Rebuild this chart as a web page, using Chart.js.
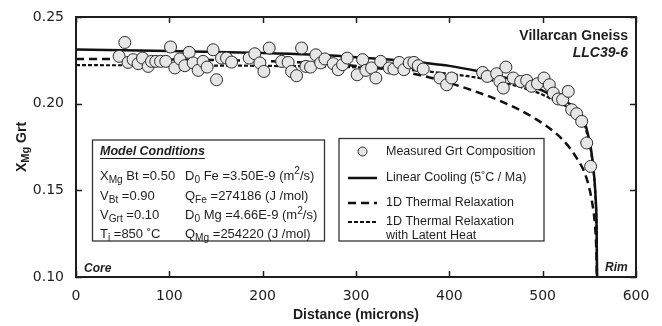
<!DOCTYPE html>
<html>
<head>
<meta charset="utf-8">
<script src="https://cdn.jsdelivr.net/npm/chart.js@4.4.1/dist/chart.umd.min.js"></script>
<style>
  body { margin: 0; background: #fff; }
  #wrap { width: 662px; height: 326px; position: relative; }
</style>
</head>
<body>
<div id="wrap"><canvas id="profileChart"></canvas></div>
<script>
// measured garnet composition, core -> rim
const grtDist = [
  46.2, 52.3, 55.8, 61.2, 66.6, 71.3, 77.3, 80.9, 85.5, 90.6, 96.2, 101.3, 105.9, 111.3, 116.6,
  121.2, 125.5, 130.9, 136.2, 140.5, 146.9, 150.6, 155.9, 161.3, 166.7, 185.5, 191.6, 197.0,
  201.3, 207.0, 220.3, 227.3, 231.0, 236.3, 241.7, 246.3, 251.3, 257.0, 262.1, 266.7, 275.6,
  280.9, 285.6, 290.6, 301.3, 307.1, 310.6, 316.7, 321.3, 326.4, 335.6, 340.6, 346.3, 351.3,
  357.0, 362.0, 366.7, 372.0, 389.9, 397.1, 402.5, 435.7, 440.6, 450.7, 454.2, 457.8, 460.6,
  468.5, 476.4, 482.9, 488.2, 494.5, 501.4, 507.1, 511.4, 516.7, 521.4, 527.4, 531.1, 536.4,
  541.8, 547.2, 551.4
];
const grtXMg = [
  0.2273, 0.2353, 0.2238, 0.2254, 0.2231, 0.2263, 0.2215, 0.2244, 0.2244, 0.2244, 0.2244, 0.2327, 0.2206, 0.2258, 0.2219,
  0.2296, 0.2235, 0.2192, 0.2244, 0.2211, 0.2311, 0.2138, 0.2263, 0.2263, 0.2240, 0.2263, 0.2288, 0.2235,
  0.2186, 0.2321, 0.2244, 0.2238, 0.2186, 0.2161, 0.2321, 0.2215, 0.2211, 0.2282, 0.2235, 0.2258, 0.2231,
  0.2196, 0.2225, 0.2263, 0.2167, 0.2254, 0.2192, 0.2206, 0.2148, 0.2244, 0.2206, 0.2200, 0.2238, 0.2196,
  0.2235, 0.2238, 0.2219, 0.2200, 0.2148, 0.2109, 0.2148, 0.2180, 0.2157, 0.2173, 0.2128, 0.2090, 0.2211,
  0.2148, 0.2128, 0.2134, 0.2100, 0.2115, 0.2148, 0.2109, 0.2061, 0.2027, 0.2023, 0.2071, 0.1965, 0.1942,
  0.1898, 0.1773, 0.1638
];

// model curves
const coolDist = [0, 100, 200, 250, 300, 350, 400, 430, 460, 480, 500, 515, 530, 538, 545, 549, 552, 554.5, 556.5, 557.8, 558.3];
const coolXMg = [0.2312, 0.2304, 0.2292, 0.2283, 0.2268, 0.2248, 0.2218, 0.2188, 0.2150, 0.2118, 0.2075, 0.2030, 0.1995, 0.1950, 0.1895, 0.1810, 0.1730, 0.1620, 0.1480, 0.1280, 0.1000];

const relaxDist = [0, 100, 200, 250, 300, 340, 380, 420, 455, 490, 520, 536, 547, 553, 556, 557.5, 558];
const relaxXMg = [0.2258, 0.2255, 0.2246, 0.2236, 0.2218, 0.2192, 0.2150, 0.2085, 0.2015, 0.1920, 0.1800, 0.1690, 0.1570, 0.1430, 0.1300, 0.1150, 0.1000];

const latentDist = [0, 100, 200, 300, 350, 400, 430, 460, 480, 500, 515, 530, 538, 545, 549, 552, 554.5, 556.5, 557.8, 558.3];
const latentXMg = [0.2222, 0.2221, 0.2218, 0.2210, 0.2198, 0.2172, 0.2150, 0.2118, 0.2090, 0.2052, 0.2010, 0.1970, 0.1930, 0.1875, 0.1795, 0.1720, 0.1612, 0.1472, 0.1272, 0.1000];

const xTicks = [0, 100, 200, 300, 400, 500, 600];
const yTicks = [0.10, 0.15, 0.20, 0.25];

const legendLabels = [
  ['Measured Grt Composition'],
  ['Linear Cooling (5\u02DAC / Ma)'],
  ['1D Thermal Relaxation'],
  ['1D Thermal Relaxation', 'with Latent Heat']
];

// model parameters, each row: [left column, right column]; parts are [text, 'sub'|'sup'|'']
const modelRows = [
  [[['X', ''], ['Mg', 'sub'], [' Bt =0.50', '']], [['D', ''], ['0', 'sub'], [' Fe =3.50E-9 (m', ''], ['2', 'sup'], ['/s)', '']]],
  [[['V', ''], ['Bt', 'sub'], [' =0.90', '']], [['Q', ''], ['Fe', 'sub'], [' =274186 (J /mol)', '']]],
  [[['V', ''], ['Grt', 'sub'], [' =0.10', '']], [['D', ''], ['0', 'sub'], [' Mg =4.66E-9 (m', ''], ['2', 'sup'], ['/s)', '']]],
  [[['T', ''], ['i', 'sub'], [' =850 \u02DAC', '']], [['Q', ''], ['Mg', 'sub'], [' =254220 (J /mol)', '']]]
];

const toXY = (xs, ys) => xs.map((x, i) => ({ x: x, y: ys[i] }));
const INK = '#1e1e1e';
const SANS = '"Liberation Sans", Arial, sans-serif';

function drawRich(ctx, x, y, parts, size) {
  parts.forEach(p => {
    const small = p[1] !== '';
    ctx.font = (small ? size * 0.78 : size) + 'px ' + SANS;
    let dy = 0;
    if (p[1] === 'sub') dy = size * 0.3;
    if (p[1] === 'sup') dy = -size * 0.35;
    ctx.fillText(p[0], x, y + dy);
    x += ctx.measureText(p[0]).width;
  });
}

const decorPlugin = {
  id: 'decor',
  beforeDatasetsDraw(chart) {
    const ctx = chart.ctx;
    ctx.save();
    // model conditions box
    ctx.fillStyle = '#fff';
    ctx.strokeStyle = '#333';
    ctx.lineWidth = 1.3;
    ctx.fillRect(92.5, 140, 232, 101);
    ctx.strokeRect(92.5, 140, 232, 101);
    ctx.fillStyle = INK;
    ctx.textBaseline = 'middle';
    ctx.textAlign = 'left';
    ctx.font = 'italic bold 12.5px ' + SANS;
    ctx.fillText('Model Conditions', 100, 152);
    const tw = ctx.measureText('Model Conditions').width;
    ctx.lineWidth = 1;
    ctx.strokeStyle = INK;
    ctx.beginPath();
    ctx.moveTo(100, 158.5);
    ctx.lineTo(100 + tw, 158.5);
    ctx.stroke();
    const rowY = [176, 196, 215.5, 234.5];
    modelRows.forEach((row, i) => {
      drawRich(ctx, 100, rowY[i], row[0], 13);
      drawRich(ctx, 185, rowY[i], row[1], 13);
    });

    // legend box
    ctx.fillStyle = '#fff';
    ctx.strokeStyle = '#333';
    ctx.lineWidth = 1.3;
    ctx.fillRect(339, 138.5, 205, 102.5);
    ctx.strokeRect(339, 138.5, 205, 102.5);
    const ds = chart.data.datasets;
    const legY = [151.5, 178, 203, 222];
    ds.forEach((d, i) => {
      const y = legY[i];
      if (i === 0) {
        ctx.beginPath();
        ctx.arc(362.5, y, 4.5, 0, Math.PI * 2);
        ctx.fillStyle = d.backgroundColor;
        ctx.fill();
        ctx.lineWidth = 1;
        ctx.strokeStyle = d.borderColor;
        ctx.stroke();
      } else {
        ctx.beginPath();
        ctx.setLineDash(d.borderDash || []);
        ctx.lineWidth = d.borderWidth;
        ctx.strokeStyle = d.borderColor;
        ctx.moveTo(348, y);
        ctx.lineTo(377, y);
        ctx.stroke();
        ctx.setLineDash([]);
      }
      ctx.fillStyle = INK;
      ctx.font = '12.5px ' + SANS;
      legendLabels[i].forEach((t, k) => ctx.fillText(t, 386, y + k * 13.5));
    });
    ctx.restore();
  },
  afterDraw(chart) {
    const ctx = chart.ctx;
    const a = chart.chartArea;
    const xs = chart.scales.x;
    const ys = chart.scales.y;
    ctx.save();
    // inward ticks on all four sides
    ctx.strokeStyle = INK;
    ctx.lineWidth = 1.5;
    ctx.beginPath();
    xTicks.forEach(v => {
      const px = Math.round(xs.getPixelForValue(v)) + 0.5;
      ctx.moveTo(px, a.bottom); ctx.lineTo(px, a.bottom - 6);
      ctx.moveTo(px, a.top); ctx.lineTo(px, a.top + 6);
    });
    yTicks.forEach(v => {
      const py = Math.round(ys.getPixelForValue(v)) + 0.5;
      ctx.moveTo(a.left, py); ctx.lineTo(a.left + 6, py);
      ctx.moveTo(a.right, py); ctx.lineTo(a.right - 6, py);
    });
    ctx.stroke();
    // frame
    ctx.lineWidth = 2;
    ctx.strokeRect(a.left, a.top, a.right - a.left, a.bottom - a.top);

    ctx.fillStyle = INK;
    ctx.textBaseline = 'middle';
    // axis titles
    ctx.textAlign = 'center';
    ctx.font = 'bold 14px ' + SANS;
    ctx.fillText('Distance (microns)', (a.left + a.right) / 2, 315);
    ctx.save();
    ctx.translate(22, (a.top + a.bottom) / 2);
    ctx.rotate(-Math.PI / 2);
    ctx.font = 'bold 14px ' + SANS;
    const w1 = ctx.measureText('X').width;
    ctx.font = 'bold 11px ' + SANS;
    const w2 = ctx.measureText('Mg').width;
    ctx.font = 'bold 14px ' + SANS;
    const w3 = ctx.measureText(' Grt').width;
    let x0 = -(w1 + w2 + w3) / 2;
    ctx.textAlign = 'left';
    ctx.fillText('X', x0, 0);
    ctx.font = 'bold 11px ' + SANS;
    ctx.fillText('Mg', x0 + w1, 4);
    ctx.font = 'bold 14px ' + SANS;
    ctx.fillText(' Grt', x0 + w1 + w2, 0);
    ctx.restore();

    // sample annotation
    ctx.textAlign = 'right';
    ctx.font = 'bold 14px ' + SANS;
    ctx.fillText('Villarcan Gneiss', 628, 36);
    ctx.font = 'italic bold 14px ' + SANS;
    ctx.fillText('LLC39-6', 628, 53);
    ctx.textAlign = 'left';
    ctx.font = 'italic bold 12px ' + SANS;
    ctx.fillText('Core', 84, 269);
    ctx.fillText('Rim', 605, 268);
    ctx.restore();
  }
};

new Chart(document.getElementById('profileChart').getContext('2d'), {
  type: 'scatter',
  data: {
    datasets: [
      {
        label: legendLabels[0].join(' '),
        data: toXY(grtDist, grtXMg),
        backgroundColor: '#e6e6e6',
        borderColor: '#2a2a2a',
        borderWidth: 1,
        pointRadius: 6,
        order: 0
      },
      {
        label: legendLabels[1].join(' '),
        type: 'line',
        data: toXY(coolDist, coolXMg),
        borderColor: '#111',
        borderWidth: 2.5,
        pointRadius: 0,
        fill: false,
        cubicInterpolationMode: 'monotone',
        order: 1
      },
      {
        label: legendLabels[2].join(' '),
        type: 'line',
        data: toXY(relaxDist, relaxXMg),
        borderColor: '#111',
        borderWidth: 2.5,
        borderDash: [8, 5],
        pointRadius: 0,
        fill: false,
        cubicInterpolationMode: 'monotone',
        order: 2
      },
      {
        label: legendLabels[3].join(' '),
        type: 'line',
        data: toXY(latentDist, latentXMg),
        borderColor: '#111',
        borderWidth: 2.2,
        borderDash: [4, 2],
        pointRadius: 0,
        fill: false,
        cubicInterpolationMode: 'monotone',
        order: 3
      }
    ]
  },
  options: {
    responsive: true,
    maintainAspectRatio: false,
    animation: false,
    layout: { padding: { top: 17, right: 26, left: 0, bottom: 0 } },
    plugins: {
      legend: { display: false },
      tooltip: { enabled: false }
    },
    scales: {
      x: {
        type: 'linear',
        min: 0,
        max: 600,
        afterFit: s => { s.height = 49; },
        afterBuildTicks: s => { s.ticks = xTicks.map(v => ({ value: v })); },
        grid: { display: false },
        border: { display: false },
        ticks: {
          padding: 3,
          color: INK,
          font: { family: '"DejaVu Sans"', size: 14 }
        }
      },
      y: {
        min: 0.10,
        max: 0.25,
        afterFit: s => { s.width = 76; },
        afterBuildTicks: s => { s.ticks = yTicks.map(v => ({ value: v })); },
        grid: { display: false },
        border: { display: false },
        ticks: {
          padding: 4,
          color: INK,
          font: { family: '"DejaVu Sans"', size: 14 },
          callback: v => v.toFixed(2)
        }
      }
    }
  },
  plugins: [decorPlugin]
});
</script>
</body>
</html>
